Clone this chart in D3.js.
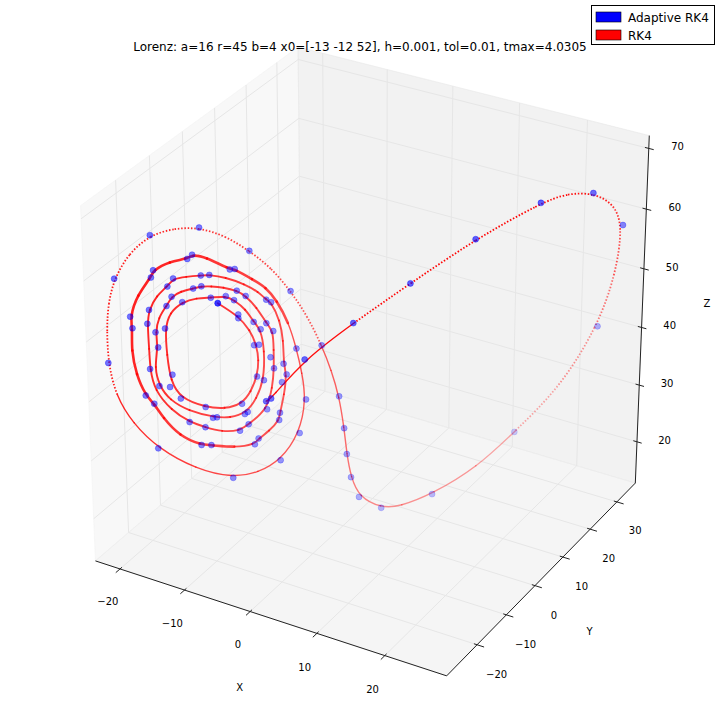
<!DOCTYPE html>
<html>
<head>
<meta charset="utf-8">
<script src="https://cdnjs.cloudflare.com/ajax/libs/d3/7.8.5/d3.min.js"></script>
<style>
body { margin: 0; background: #fff; }
svg { display: block; font-family: "DejaVu Sans", sans-serif; }
</style>
</head>
<body>
<div id="viz"></div>
<script>
var width = 720,
  height = 720;

// axis limits and ticks
var xLim = [-22.8, 27.9],
  yLim = [-28.8, 35.7],
  zLim = [13.8, 70.9];
var xTicks = [-20, -10, 0, 10, 20];
var yTicks = [-20, -10, 0, 10, 20, 30];
var zTicks = [20, 30, 40, 50, 60, 70];

var titleText = 'Lorenz: a=16 r=45 b=4 x0=[-13 -12 52], h=0.001, tol=0.01, tmax=4.0305';
var seriesNames = ['Adaptive RK4', 'RK4'];

// adaptive RK4 steps (blue dots)
var adaptX = [-13, -13, -12.1, -12.0, -10.0, -9.6, -9.0, -9.6, -12.6, -14.9, -16.1, -16.2, -17.9, -17.1, -14.8,
  -13.6, -12.8, -10.6, -9.8, -8.3, -8.9, -9.1, -11.4, -11.7, -17.0, -18.0, -18.6, -18.3, -18.1, -16.5, -15.9,
  -12.8, -11.9, -9.5, -8.7, -8.3, -7.7, -7.3, -8.5, -9.1, -12.1, -13.6, -18.2, -19.5, -19.7, -18.7, -18.4, -16.2, -15.5,
  -10.1, -9.6, -7.0, -6.5, -6.7, -6.1, -6.0, -7.3, -7.5, -11.2, -12.0, -17.0, -17.9, -20.6, -21.1, -20.3, -20.3, -17.7, -17.4,
  -13.9, -13.5, -6.3, -4.2, -3.9, -4.9, -8.5, -15.6, -21.8, -23.3, -21.4, -17.5,
  -12.7, -8.2, -4.2, -1.3, 0.0, 0.3, 0.8, 1.7, 3.3, 8.4, 13.4, 23.2, 28.3, 27.0, 23.0, 17.3, 11.2, 5.8, 1.3, -2.0, -2.5];
var adaptY = [-12, -12, -7.6, -7.8, -7.1, -6.4, -8.4, -12.0, -17.2, -20.1, -20.9, -19.9, -18.4, -14.6, -10.5,
  -8.3, -7.4, -5.9, -5.4, -7.7, -11.7, -12.2, -16.2, -16.8, -22.3, -20.4, -19.9, -17.0, -15.8, -12.4, -11.1,
  -6.5, -5.6, -4.2, -3.7, -5.5, -5.7, -8.9, -12.3, -13.8, -18.4, -20.2, -22.6, -20.5, -19.5, -15.8, -14.6, -10.6, -9.4,
  -2.9, -2.4, -4.1, -4.2, -5.3, -7.3, -7.8, -11.7, -12.5, -18.5, -19.9, -24.0, -24.7, -22.8, -22.4, -17.5, -16.8, -11.6, -10.7,
  -6.3, -5.6, -1.4, -2.9, -5.7, -9.8, -17.4, -25.9, -27.9, -22.5, -15.3, -8.2,
  -2.6, 0.9, 2.3, 1.7, 0.5, 0.7, 1.0, 1.7, 5.7, 11.8, 29.4, 35.1, 30.1, 22.1, 13.5, 5.0, -2.5, -9.0, -14.8, -18.5, -19.0];
var adaptZ = [52, 52, 48.5, 48.0, 43.8, 43.7, 39.4, 36.2, 37.0, 39.0, 40.9, 42.5, 49.0, 52.0, 51.7,
  51.4, 50.6, 47.0, 45.8, 38.7, 34.9, 34.7, 35.2, 35.3, 41.4, 46.7, 48.8, 52.0, 53.1, 53.5, 53.5,
  51.8, 50.8, 46.4, 45.1, 41.6, 40.0, 34.6, 33.2, 32.6, 34.3, 35.5, 44.0, 50.2, 52.0, 54.6, 55.5, 55.0, 54.8,
  49.6, 49.1, 40.3, 38.7, 37.8, 33.7, 32.7, 30.9, 30.2, 31.6, 32.0, 39.2, 40.6, 50.1, 51.7, 56.3, 57.2, 57.7, 58.1,
  54.9, 54.8, 41.9, 34.6, 30.2, 27.1, 26.4, 33.0, 46.2, 57.3, 62.0, 61.5,
  56.8, 50.0, 41.5, 34.0, 29.5, 25.0, 21.0, 17.5, 14.2, 15.5, 20.0, 39.2, 60.0, 68.1, 68.8, 64.7, 58.8, 53.4, 48.5, 42.6, 42.2];

// fixed step RK4 trajectory (red)
var rk4X = [-13, -12.0, -10.7, -9.8, -9.2, -9.0, -9.1, -9.6, -10.9, -12.6, -14.9, -16.2, -17.1, -17.9, -17.9, -17.1, -16.0, -14.8,
  -13.6, -12.8, -11.6, -10.6, -9.8, -9.0, -8.3, -8.5, -9.0, -10.3, -11.5, -14.0, -15.8, -17.0, -17.9, -18.0, -18.6, -18.7, -18.3, -18.1, -17.5, -16.5, -15.9, -15.1,
  -14.0, -12.8, -11.9, -10.7, -9.5, -8.7, -8.2, -7.7, -7.4, -7.3, -8.5, -9.1, -10.6, -12.1, -13.6, -15.4, -17.3, -18.2, -18.7, -19.5, -19.7, -19.4, -18.7, -18.4, -17.4, -16.2, -15.5,
  -14.1, -12.3, -10.9, -10.1, -9.6, -8.4, -7.6, -7.0, -6.5, -6.2, -6.1, -6.0, -6.6, -7.3, -7.5, -9.1, -11.2, -12.0, -14.1, -16.0, -17.0, -17.9, -19.2, -20.2, -20.6, -21.1, -21.0, -20.3, -20.3, -19.1, -17.7, -17.4, -16.3,
  -13.9, -13.5, -11.7, -10.4, -9.2, -7.6, -6.3, -5.2, -4.2, -3.9, -4.9, -6.5, -8.5, -11.9, -15.6, -18.3, -20.4, -21.8, -22.7, -23.2, -23.3, -22.7, -21.4, -19.5, -17.5,
  -15.1, -12.7, -10.4, -8.2, -6.2, -4.2, -2.7, -1.3, 0.0, 0.3, 0.8, 1.7, 3.3, 5.0, 8.4, 11.7, 13.4, 18.7, 23.2, 26.2, 28.3, 28.2, 27.0, 25.0, 23.0, 17.3, 11.2, 5.8, 1.3, -2.0, -2.5];
var rk4Y = [-12, -7.7, -6.9, -6.8, -7.3, -8.4, -10.2, -12.0, -14.7, -17.2, -20.1, -20.5, -19.6, -18.4, -16.9, -14.6, -12.4, -10.5,
  -8.3, -7.4, -6.3, -5.9, -5.4, -5.9, -7.7, -9.7, -11.9, -14.5, -16.5, -19.8, -21.7, -22.3, -21.9, -20.4, -19.9, -18.7, -17.0, -15.8, -14.2, -12.4, -11.1, -9.8,
  -8.2, -6.5, -5.6, -4.7, -4.2, -3.7, -4.7, -5.7, -6.9, -8.9, -12.3, -13.8, -16.4, -18.4, -20.2, -22.0, -23.2, -22.6, -21.7, -20.5, -19.5, -17.7, -15.8, -14.6, -12.7, -10.6, -9.4,
  -7.4, -5.0, -3.6, -2.9, -2.4, -2.2, -2.8, -4.1, -4.2, -5.7, -7.3, -7.8, -9.8, -11.7, -12.5, -15.5, -18.5, -19.9, -22.3, -23.6, -24.0, -24.7, -24.8, -24.1, -22.8, -22.4, -20.3, -17.5, -16.8, -14.1, -11.6, -10.7, -9.0,
  -6.3, -5.6, -3.7, -2.3, -1.5, -1.1, -1.4, -2.0, -2.9, -5.7, -9.8, -13.6, -17.4, -22.0, -25.9, -28.0, -28.7, -27.9, -26.3, -24.7, -22.5, -19.2, -15.3, -11.6, -8.2,
  -5.1, -2.6, -0.4, 0.9, 1.9, 2.3, 2.2, 1.7, 0.5, 0.7, 1.0, 1.7, 5.7, 8.2, 11.8, 20.1, 29.4, 33.0, 35.1, 33.5, 30.1, 26.5, 22.1, 17.8, 13.5, 5.0, -2.5, -9.0, -14.8, -18.5, -19.0];
var rk4Z = [52, 48.3, 46.0, 43.8, 41.6, 39.4, 37.6, 36.2, 36.1, 37.0, 39.0, 41.7, 45.4, 49.0, 51.0, 52.0, 52.1, 51.7,
  51.4, 50.6, 49.0, 47.0, 45.8, 42.8, 38.7, 36.4, 34.8, 34.7, 35.3, 37.1, 39.2, 41.4, 44.1, 46.7, 48.8, 50.7, 52.0, 53.1, 53.5, 53.5, 53.5, 53.2,
  52.7, 51.8, 50.8, 48.9, 46.4, 45.1, 42.5, 40.0, 37.4, 34.6, 33.2, 32.6, 33.1, 34.3, 35.5, 37.7, 41.0, 44.0, 46.6, 50.2, 52.0, 53.7, 54.6, 55.5, 55.3, 55.0, 54.8,
  54.0, 52.4, 50.9, 49.6, 49.1, 46.4, 43.5, 40.3, 38.7, 36.0, 33.7, 32.7, 31.5, 30.9, 30.2, 30.5, 31.6, 32.0, 33.9, 37.1, 39.2, 40.6, 43.7, 47.2, 50.1, 51.7, 54.4, 56.3, 57.2, 57.9, 57.7, 58.1, 57.4,
  54.9, 54.8, 52.8, 51.3, 49.2, 45.8, 41.9, 38.4, 34.6, 30.2, 27.1, 26.2, 26.4, 28.9, 33.0, 37.3, 41.6, 46.2, 50.7, 54.1, 57.3, 60.2, 62.0, 62.2, 61.5,
  59.6, 56.8, 53.7, 50.0, 46.1, 41.5, 37.8, 34.0, 29.5, 25.0, 21.0, 17.5, 14.2, 13.8, 15.5, 17.5, 20.0, 28.0, 39.2, 49.6, 60.0, 65.0, 68.1, 69.2, 68.8, 64.7, 58.8, 53.4, 48.5, 42.6, 42.2];

// view (matplotlib mplot3d defaults)
var elev = 30, azim = -60, dist = 10;
var lo = -1 / 48, hi = 1 + 1 / 48;

var svg = d3.select('#viz').append('svg')
  .attr('width', width)
  .attr('height', height);

svg.append('rect')
  .attr('width', width)
  .attr('height', height)
  .attr('fill', '#ffffff');

function dot3(a, b) { return a[0] * b[0] + a[1] * b[1] + a[2] * b[2]; }
function cross3(a, b) { return [a[1] * b[2] - a[2] * b[1], a[2] * b[0] - a[0] * b[2], a[0] * b[1] - a[1] * b[0]]; }
function unit(a) { var m = Math.sqrt(dot3(a, a)); return [a[0] / m, a[1] / m, a[2] / m]; }

var er = elev * Math.PI / 180, ar = azim * Math.PI / 180;
var nVec = [Math.cos(er) * Math.cos(ar), Math.cos(er) * Math.sin(ar), Math.sin(er)];
var uVec = unit(cross3([0, 0, 1], nVec));
var vVec = cross3(nVec, uVec);

var xn = d3.scaleLinear().domain(xLim).range([0, 1]);
var yn = d3.scaleLinear().domain(yLim).range([0, 1]);
var zn = d3.scaleLinear().domain(zLim).range([0, 1]);
var screenX = d3.scaleLinear().domain([-0.95 / dist, 0.9 / dist]).range([0, width]);
var screenY = d3.scaleLinear().domain([-0.95 / dist, 0.9 / dist]).range([height, 0]);

// normalised box coords -> [px, py, depth]
function projN(p) {
  var d = [p[0] - 0.5, p[1] - 0.5, p[2] - 0.5];
  var w = dist - dot3(nVec, d);
  return [screenX(dot3(uVec, d) / w), screenY(dot3(vVec, d) / w), -dist / w];
}
function proj(x, y, z) { return projN([xn(x), yn(y), zn(z)]); }

var poly = d3.line().x(function (p) { return p[0]; }).y(function (p) { return p[1]; });
function path3(pts) { return poly(pts.map(projN)); }

// panes
var panes = [
  { fill: 'rgba(242,242,242,0.5)', pts: [[lo, lo, lo], [lo, hi, lo], [lo, hi, hi], [lo, lo, hi]] },
  { fill: 'rgba(230,230,230,0.5)', pts: [[lo, hi, lo], [hi, hi, lo], [hi, hi, hi], [lo, hi, hi]] },
  { fill: 'rgba(236,236,236,0.5)', pts: [[lo, lo, lo], [hi, lo, lo], [hi, hi, lo], [lo, hi, lo]] }
];
svg.append('g').selectAll('path')
  .data(panes)
  .enter().append('path')
  .attr('d', function (d) { return path3(d.pts) + 'Z'; })
  .attr('fill', function (d) { return d.fill; })
  .attr('stroke', function (d) { return d.fill; });

// grid
var grid = svg.append('g')
  .attr('fill', 'none')
  .attr('stroke', '#e6e6e6')
  .attr('stroke-width', 1);
xTicks.forEach(function (t) {
  grid.append('path').attr('d', path3([[xn(t), lo, lo], [xn(t), hi, lo], [xn(t), hi, hi]]));
});
yTicks.forEach(function (t) {
  grid.append('path').attr('d', path3([[hi, yn(t), lo], [lo, yn(t), lo], [lo, yn(t), hi]]));
});
zTicks.forEach(function (t) {
  grid.append('path').attr('d', path3([[hi, hi, zn(t)], [lo, hi, zn(t)], [lo, lo, zn(t)]]));
});

// axis lines and ticks
var axes = svg.append('g')
  .attr('fill', 'none')
  .attr('stroke', '#222')
  .attr('stroke-width', 1);
axes.append('path').attr('d', path3([[lo, lo, lo], [hi, lo, lo]]));
axes.append('path').attr('d', path3([[hi, lo, lo], [hi, hi, lo]]));
axes.append('path').attr('d', path3([[hi, hi, lo], [hi, hi, hi]]));

xTicks.forEach(function (t) {
  axes.append('path').attr('d', path3([[xn(t), lo + 0.009, lo], [xn(t), lo - 0.02, lo]]));
});
yTicks.forEach(function (t) {
  axes.append('path').attr('d', path3([[hi - 0.009, yn(t), lo], [hi + 0.02, yn(t), lo]]));
});
zTicks.forEach(function (t) {
  axes.append('path').attr('d', path3([[hi - 0.011, hi, zn(t)], [hi + 0.014, hi, zn(t)]]));
});

function fmt(t) { return t < 0 ? '\u2212' + Math.abs(t) : String(t); }

var labels = svg.append('g')
  .attr('font-size', 10)
  .attr('fill', '#000')
  .attr('text-anchor', 'middle')
  .attr('dominant-baseline', 'central');

function label(p, txt) {
  var s = projN(p);
  labels.append('text').attr('x', s[0]).attr('y', s[1]).text(txt);
}
xTicks.forEach(function (t) { label([xn(t), lo - 0.061, lo - 0.0665], fmt(t)); });
yTicks.forEach(function (t) { label([hi + 0.057, yn(t), lo - 0.072], fmt(t)); });
zTicks.forEach(function (t) { label([hi + 0.06, hi + 0.044, zn(t)], fmt(t)); });
label([0.5, lo - 0.137, lo - 0.1335], 'X');
label([hi + 0.134, 0.5, lo - 0.129], 'Y');
label([hi + 0.1233, hi + 0.1328, 0.5], 'Z');

// RK4 trajectory: small red markers, depth shaded
var rk4Pts = rk4X.map(function (x, i) { return proj(x, rk4Y[i], rk4Z[i]); });
var rk4Shade = d3.scaleLinear()
  .domain(d3.extent(rk4Pts, function (p) { return p[2]; }))
  .range([1, 0.3]);

function segKind(i) {
  if ((i >= 118 && i <= 131) || (i >= 143 && i <= 153)) return 'dotted';
  if (i >= 84 && i <= 106) return 'thick';
  if ((i >= 107 && i <= 117) || i >= 132) return 'thin';
  return 'normal';
}
var segWidth = { normal: 1.9, thick: 2.6, thin: 1.4, dotted: 1.8 };

// uniform B-spline pieces, one per step, so each can carry its own shade
var segs = [];
var last = rk4Pts.length - 1;
for (var i = 0; i < last; i++) {
  var p0 = rk4Pts[Math.max(i - 1, 0)], p1 = rk4Pts[i],
    p2 = rk4Pts[i + 1], p3 = rk4Pts[Math.min(i + 2, last)];
  var a = i === 0 ? p1 : [(p0[0] + 4 * p1[0] + p2[0]) / 6, (p0[1] + 4 * p1[1] + p2[1]) / 6];
  var b = i === last - 1 ? p2 : [(p1[0] + 4 * p2[0] + p3[0]) / 6, (p1[1] + 4 * p2[1] + p3[1]) / 6];
  var pth = d3.path();
  pth.moveTo(a[0], a[1]);
  pth.bezierCurveTo((2 * p1[0] + p2[0]) / 3, (2 * p1[1] + p2[1]) / 3,
    (p1[0] + 2 * p2[0]) / 3, (p1[1] + 2 * p2[1]) / 3, b[0], b[1]);
  segs.push({ d: pth.toString(), depth: (p1[2] + p2[2]) / 2, kind: segKind(i) });
}
segs.sort(function (a, b) { return b.depth - a.depth; });

svg.append('g').selectAll('path')
  .data(segs)
  .enter().append('path')
  .attr('d', function (d) { return d.d; })
  .attr('fill', 'none')
  .attr('stroke', '#ff0000')
  .attr('stroke-opacity', function (d) { return rk4Shade(d.depth); })
  .attr('stroke-width', function (d) { return segWidth[d.kind]; })
  .attr('stroke-linecap', function (d) { return d.kind === 'dotted' ? 'butt' : 'round'; })
  .attr('stroke-dasharray', function (d) { return d.kind === 'dotted' ? '1.5,1.8' : null; });

// adaptive RK4 steps: blue dots, depth shaded
var adaptPts = adaptX.map(function (x, i) { return proj(x, adaptY[i], adaptZ[i]); });
var adaptShade = d3.scaleLinear()
  .domain(d3.extent(adaptPts, function (p) { return p[2]; }))
  .range([1, 0.3]);
adaptPts.sort(function (a, b) { return b[2] - a[2]; });

svg.append('g').selectAll('circle')
  .data(adaptPts)
  .enter().append('circle')
  .attr('cx', function (d) { return d[0]; })
  .attr('cy', function (d) { return d[1]; })
  .attr('r', 3)
  .attr('fill', '#0000ff')
  .attr('fill-opacity', function (d) { return 0.62 * adaptShade(d[2]); })
  .attr('stroke', '#0000ff')
  .attr('stroke-opacity', function (d) { return 0.62 * adaptShade(d[2]); })
  .attr('stroke-width', 0.6);

// title
svg.append('text')
  .attr('x', 360)
  .attr('y', 51)
  .attr('text-anchor', 'middle')
  .attr('font-size', 12)
  .text(titleText);

// legend
var legend = svg.append('g');
legend.append('rect')
  .attr('x', 591.5).attr('y', 5.5)
  .attr('width', 123).attr('height', 39)
  .attr('fill', '#fff')
  .attr('stroke', '#000')
  .attr('stroke-width', 1);
var legendColors = ['#0000ff', '#ff0000'];
seriesNames.forEach(function (name, k) {
  legend.append('rect')
    .attr('x', 596).attr('y', 12 + k * 18)
    .attr('width', 25).attr('height', 10)
    .attr('fill', legendColors[k])
    .attr('stroke', '#000')
    .attr('stroke-width', 0.6);
  legend.append('text')
    .attr('x', 628).attr('y', 21.5 + k * 18)
    .attr('font-size', 12)
    .text(name);
});
</script>
</body>
</html>
